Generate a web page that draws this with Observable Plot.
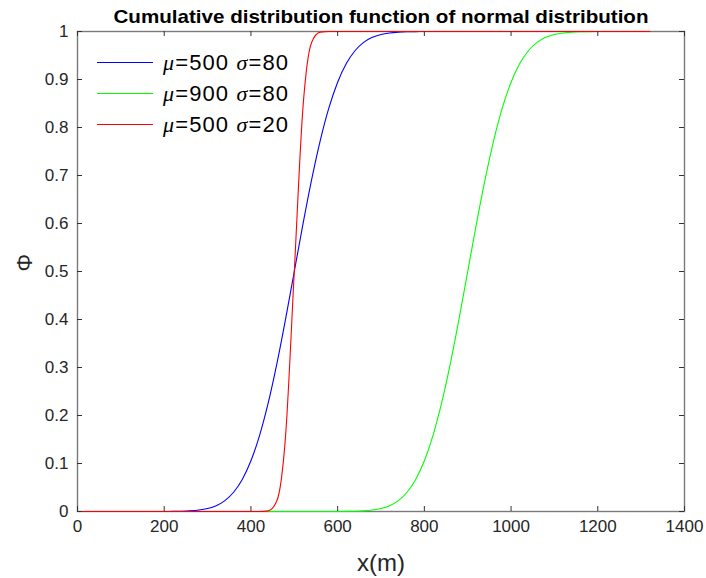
<!DOCTYPE html>
<html>
<head>
<meta charset="utf-8">
<script src="https://cdn.jsdelivr.net/npm/d3@7"></script>
<script src="https://cdn.jsdelivr.net/npm/@observablehq/plot@0.6"></script>
<style>
  html, body { margin: 0; padding: 0; background: #ffffff; }
  #chart { width: 706px; height: 578px; }
</style>
</head>
<body>
<div id="chart"></div>
<script>
// ---- data ----
const titleText = "Cumulative distribution function of normal distribution";
const xLabel = "x(m)";
const yLabel = "Φ";

const xTicks = [0, 200, 400, 600, 800, 1000, 1200, 1400];
const yTicks = [0, 0.1, 0.2, 0.3, 0.4, 0.5, 0.6, 0.7, 0.8, 0.9, 1];

const xValues = [0,20,40,60,80,100,120,140,160,180,200,220,240,260,280,300,320,340,360,380,400,420,440,460,480,500,520,540,560,580,600,620,640,660,680,700,720,740,760,780,800,820,840,860,880,900,920,940,960,980,1000,1020,1040,1060,1080,1100,1120,1140,1160,1180,1200,1220,1240,1260,1280,1300,1320];

// mu=500 sigma=80
const phiBlue = [0,0,0,0,0,0,0,0,0,
  0.00003,0.00009,0.00023,0.00058,0.00135,0.00298,0.00621,0.01222,0.02275,0.04006,0.06681,0.10565,0.15866,0.22663,0.30854,0.40129,0.5,0.59871,0.69146,0.77337,0.84134,0.89435,0.93319,0.95994,0.97725,0.98778,0.99379,0.99702,0.99865,0.99942,0.99977,0.99991,0.99997,
  1,1,1,1,1,1,1,1,1,1,1,1,1,1,1,1,1,1,1,1,1,1,1,1,1];

// mu=900 sigma=80
const phiGreen = [0,0,0,0,0,0,0,0,0,0,0,0,0,0,0,0,0,0,0,0,0,0,0,0,0,0,0,0,0,
  0.00003,0.00009,0.00023,0.00058,0.00135,0.00298,0.00621,0.01222,0.02275,0.04006,0.06681,0.10565,0.15866,0.22663,0.30854,0.40129,0.5,0.59871,0.69146,0.77337,0.84134,0.89435,0.93319,0.95994,0.97725,0.98778,0.99379,0.99702,0.99865,0.99942,0.99977,0.99991,0.99997,
  1,1,1,1,1];

// mu=500 sigma=20
const phiRed = [0,0,0,0,0,0,0,0,0,0,0,0,0,0,0,0,0,0,0,0,0,
  0.00003,0.00135,0.02275,0.15866,0.5,0.84134,0.97725,0.99865,0.99997,
  1,1,1,1,1,1,1,1,1,1,1,1,1,1,1,1,1,1,1,1,1,1,1,1,1,1,1,1,1,1,1,1,1,1,1,1,1];

const seriesKeys = ["b", "g", "r"];
const seriesColors = ["#0000ff", "#00ff00", "#ff0000"];
const seriesMu = ["500", "900", "500"];
const seriesSigma = ["80", "80", "20"];
const seriesValues = [phiBlue, phiGreen, phiRed];

// ---- table built from the arrays ----
const rows = seriesKeys.flatMap((k, s) =>
  xValues.map((x, i) => ({x, y: seriesValues[s][i], series: k}))
);

const W = 706, H = 578;
const mL = 77, mR = 22, mT = 31, mB = 67;
const frameW = W - mL - mR, frameH = H - mT - mB;
const tickLen = 5;
const axisInk = "#262626";

const chart = Plot.plot({
  width: W,
  height: H,
  marginLeft: mL,
  marginRight: mR,
  marginTop: mT,
  marginBottom: mB,
  style: {fontFamily: "'Liberation Sans', Arial, Helvetica, sans-serif", background: "#ffffff", color: axisInk},
  x: {domain: [0, 1400]},
  y: {domain: [0, 1]},
  color: {domain: seriesKeys, range: seriesColors},
  marks: [
    Plot.frame({stroke: "#7a7a7a", strokeWidth: 1.4}),
    Plot.line(rows, {x: "x", y: "y", z: "series", stroke: "series", strokeWidth: 1.1, curve: "monotone-x"}),
    // inward tick marks on all four sides
    Plot.tickX(xTicks, {x: d => d, insetTop: frameH - tickLen, stroke: "#333", strokeWidth: 1}),
    Plot.tickX(xTicks, {x: d => d, insetBottom: frameH - tickLen, stroke: "#333", strokeWidth: 1}),
    Plot.tickY(yTicks, {y: d => d, insetRight: frameW - tickLen, stroke: "#333", strokeWidth: 1}),
    Plot.tickY(yTicks, {y: d => d, insetLeft: frameW - tickLen, stroke: "#333", strokeWidth: 1}),
    Plot.axisX({anchor: "bottom", ticks: xTicks, tickSize: 0, tickPadding: 8, tickFormat: d => String(d), fontSize: 17, label: null, fill: axisInk}),
    Plot.axisY({anchor: "left", ticks: yTicks, tickSize: 0, tickPadding: 9, tickFormat: d => String(d), fontSize: 17, label: null, fill: axisInk}),
    Plot.text([xLabel], {frameAnchor: "bottom", dy: 52, fontSize: 24, fill: axisInk, lineAnchor: "middle"}),
    Plot.text([yLabel], {frameAnchor: "left", dx: -53, rotate: -90, fontSize: 22, fill: axisInk, lineAnchor: "middle"}),
    Plot.text([titleText], {frameAnchor: "top", dy: -15, fontSize: 19, fontWeight: "bold", fill: "#000", lineAnchor: "middle"})
  ]
});

document.getElementById("chart").appendChild(chart);

// compress title to the reference's width
const svg = d3.select(chart);
svg.selectAll("text").filter(function() { return this.textContent === titleText; })
  .attr("textLength", 535).attr("lengthAdjust", "spacingAndGlyphs");

// legend (no box), drawn inside the axes at upper left
const legend = svg.append("g").attr("class", "legend").attr("text-anchor", "start");
const legX0 = 97, legX1 = 153, legTextX = 163, legY0 = 62.5, legDy = 31;
seriesKeys.forEach((k, i) => {
  const y = legY0 + i * legDy;
  legend.append("line")
    .attr("x1", legX0).attr("x2", legX1).attr("y1", y).attr("y2", y)
    .attr("stroke", seriesColors[i]).attr("stroke-width", 1.2);
  const t = legend.append("text")
    .attr("x", legTextX).attr("y", y).attr("dy", "0.36em")
    .attr("text-anchor", "start")
    .attr("font-size", 22).attr("fill", "#000")
    .attr("textLength", 125).attr("lengthAdjust", "spacing")
    .attr("font-family", "'Liberation Sans', Arial, sans-serif");
  t.append("tspan").attr("font-style", "italic").attr("font-family", "'Liberation Serif', 'Times New Roman', serif").text("μ");
  t.append("tspan").text("=" + seriesMu[i] + " ");
  t.append("tspan").attr("font-style", "italic").attr("font-family", "'Liberation Serif', 'Times New Roman', serif").text("σ");
  t.append("tspan").text("=" + seriesSigma[i]);
});
</script>
</body>
</html>
